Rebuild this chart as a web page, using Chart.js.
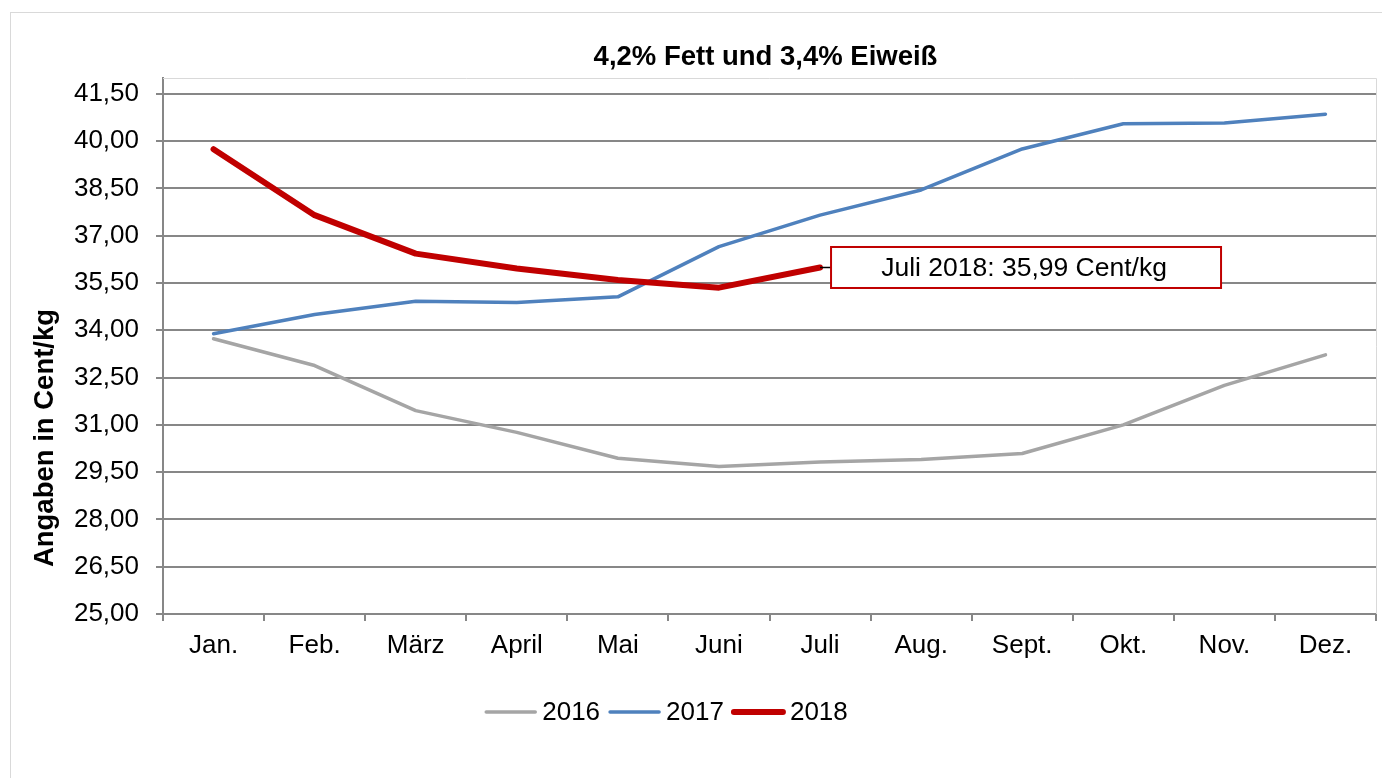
<!DOCTYPE html>
<html lang="de">
<head>
<meta charset="utf-8">
<title>4,2% Fett und 3,4% Eiweiß</title>
<script src="https://cdn.jsdelivr.net/npm/chart.js@4.4.1/dist/chart.umd.min.js"></script>
<style>
    html, body { margin: 0; padding: 0; background: #ffffff; overflow: hidden; }
    #rahmen {
        position: absolute; left: 10px; top: 12px; width: 1400px; height: 800px;
        border-left: 1px solid #d9d9d9; border-top: 1px solid #d9d9d9;
    }
    #chartPreis { position: absolute; left: 0; top: 0; }
</style>
</head>
<body>
<div id="rahmen"></div>
<canvas id="chartPreis" width="1382" height="778"></canvas>
<script>
// Daten (Milchpreis, Cent/kg)
const monate = ['Jan.', 'Feb.', 'März', 'April', 'Mai', 'Juni', 'Juli', 'Aug.', 'Sept.', 'Okt.', 'Nov.', 'Dez.'];
const jahre = ['2016', '2017', '2018'];
const preis2016 = [33.73, 32.88, 31.45, 30.76, 29.94, 29.68, 29.82, 29.90, 30.09, 31.00, 32.25, 33.22];
const preis2017 = [33.89, 34.50, 34.92, 34.88, 35.06, 36.65, 37.65, 38.45, 39.75, 40.55, 40.57, 40.85];
const preis2018 = [39.74, 37.65, 36.43, 35.96, 35.59, 35.35, 35.99, null, null, null, null, null];
const yTicks = [25, 26.5, 28, 29.5, 31, 32.5, 34, 35.5, 37, 38.5, 40, 41.5];
const yMax = 42;

const titel = '4,2% Fett und 3,4% Eiweiß';
const yTitel = 'Angaben in Cent/kg';

// Farben wie im Original
const grau = '#a5a5a5';
const blau = '#4f81bd';
const rot = '#c00000';
const gitter = '#878787';
const rahmenFarbe = '#d9d9d9';
const schrift = '"Liberation Sans", Arial, sans-serif';

const fmt = (v) => v.toFixed(2).replace('.', ',');

// Titel, Achsentitel, Legende und Hinweisbox selbst zeichnen
const extras = {
    id: 'extras',
    beforeDatasetsDraw(chart) {
        const { ctx, chartArea: a } = chart;
        ctx.save();
        ctx.strokeStyle = rahmenFarbe;
        ctx.lineWidth = 1;
        ctx.beginPath();
        ctx.moveTo(a.left, a.top + 0.5);
        ctx.lineTo(a.right + 0.5, a.top + 0.5);
        ctx.lineTo(a.right + 0.5, a.bottom);
        ctx.stroke();
        ctx.restore();
    },
    afterDatasetsDraw(chart) {
        const { ctx } = chart;
        // Hinweisbox am letzten Wert 2018
        const ds = chart.data.datasets[2];
        let idx = 0;
        ds.data.forEach((v, i) => { if (v !== null) idx = i; });
        const pt = chart.getDatasetMeta(2).data[idx];
        const boxX = pt.x + 11, boxW = 390, boxH = 41;
        const boxY = pt.y - boxH / 2;
        ctx.save();
        ctx.strokeStyle = '#000000';
        ctx.lineWidth = 1.5;
        ctx.beginPath();
        ctx.moveTo(pt.x, pt.y);
        ctx.lineTo(boxX, pt.y);
        ctx.stroke();
        ctx.fillStyle = '#ffffff';
        ctx.fillRect(boxX, boxY, boxW, boxH);
        ctx.strokeStyle = rot;
        ctx.lineWidth = 2;
        ctx.strokeRect(boxX, boxY, boxW, boxH);
        ctx.fillStyle = '#000000';
        ctx.font = '26.5px ' + schrift;
        ctx.textAlign = 'center';
        ctx.textBaseline = 'middle';
        ctx.fillText(monate[idx] + ' ' + ds.label + ': ' + fmt(ds.data[idx]) + ' Cent/kg', boxX + boxW / 2 - 2, pt.y + 1);
        ctx.restore();
    },
    afterDraw(chart) {
        const { ctx, chartArea: a } = chart;
        ctx.save();
        ctx.fillStyle = '#000000';

        // Diagrammtitel
        ctx.font = 'bold 27.5px ' + schrift;
        ctx.textAlign = 'center';
        ctx.textBaseline = 'middle';
        ctx.fillText(titel, (a.left + a.right) / 2 - 4, 57);

        // y-Achsentitel
        ctx.save();
        ctx.translate(53, 438);
        ctx.rotate(-Math.PI / 2);
        ctx.textBaseline = 'alphabetic';
        ctx.fillText(yTitel, 0, 0);
        ctx.restore();

        // Legende
        ctx.font = '26px ' + schrift;
        ctx.textAlign = 'left';
        ctx.textBaseline = 'middle';
        const linie = 53, luecke = 5, abstand = 8;
        const items = chart.data.datasets.map(d => ({ d, w: ctx.measureText(d.label).width }));
        let gesamt = 0;
        items.forEach((it, i) => { gesamt += linie + luecke + it.w + (i < items.length - 1 ? abstand : 0); });
        let x = 666 - gesamt / 2;
        const y = 712;
        items.forEach(it => {
            ctx.strokeStyle = it.d.borderColor;
            ctx.lineWidth = it.d.borderWidth;
            ctx.lineCap = 'round';
            ctx.beginPath();
            ctx.moveTo(x + 2, y);
            ctx.lineTo(x + linie - 2, y);
            ctx.stroke();
            x += linie + luecke;
            ctx.fillText(it.d.label, x, y + 1);
            x += it.w + abstand;
        });
        ctx.restore();
    }
};

const ctx = document.getElementById('chartPreis').getContext('2d');
new Chart(ctx, {
    type: 'line',
    data: {
        labels: monate,
        datasets: [
            { label: jahre[0], data: preis2016, borderColor: grau, borderWidth: 3.5, order: 3 },
            { label: jahre[1], data: preis2017, borderColor: blau, borderWidth: 3.5, order: 2 },
            { label: jahre[2], data: preis2018, borderColor: rot, borderWidth: 6, order: 1 }
        ]
    },
    options: {
        responsive: false,
        animation: false,
        devicePixelRatio: 1,
        layout: { padding: { left: 73, right: 6, top: 78, bottom: 114 } },
        elements: {
            point: { radius: 0, hoverRadius: 0 },
            line: { tension: 0, borderJoinStyle: 'round', borderCapStyle: 'round' }
        },
        plugins: {
            legend: { display: false },
            title: { display: false },
            tooltip: { enabled: false }
        },
        scales: {
            x: {
                type: 'category',
                offset: true,
                afterFit: (s) => { s.height = 50; },
                grid: { offset: true, drawOnChartArea: false, tickLength: 7, color: gitter, lineWidth: 2 },
                border: { color: gitter, width: 2 },
                ticks: { color: '#000000', font: { family: schrift, size: 26 }, padding: 9, maxRotation: 0, autoSkip: false }
            },
            y: {
                min: yTicks[0],
                max: yMax,
                afterFit: (s) => { s.width = 90; },
                afterBuildTicks: (s) => { s.ticks = yTicks.concat([yMax]).map(v => ({ value: v })); },
                grid: {
                    tickLength: 7,
                    color: (c) => (c.tick && c.tick.value === yMax ? 'rgba(0,0,0,0)' : gitter),
                    tickColor: (c) => (c.tick && c.tick.value === yMax ? 'rgba(0,0,0,0)' : gitter),
                    lineWidth: 2
                },
                border: { color: gitter, width: 2 },
                ticks: {
                    color: '#000000',
                    font: { family: schrift, size: 26, lineHeight: 1.4 },
                    padding: 17,
                    callback: (v) => (v === yMax ? '' : fmt(v))
                }
            }
        }
    },
    plugins: [extras]
});
</script>
</body>
</html>
